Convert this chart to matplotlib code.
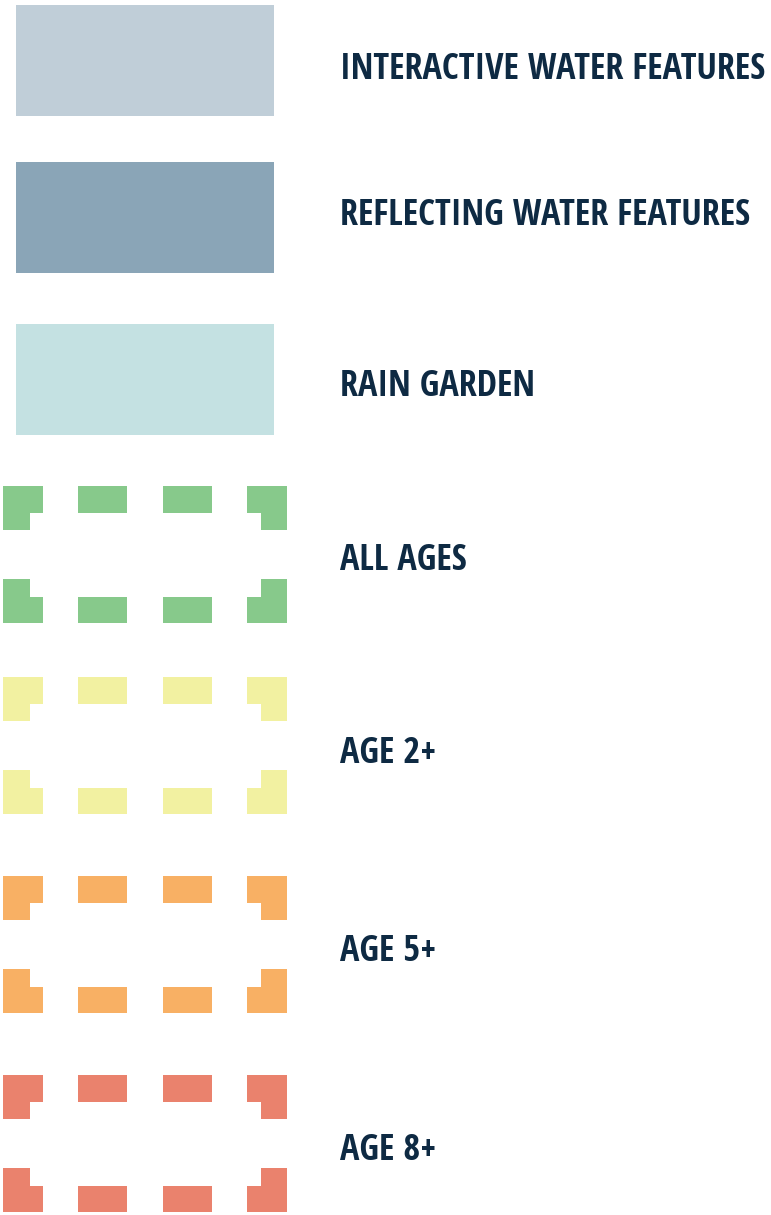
import matplotlib
matplotlib.use('Agg')
import matplotlib.pyplot as plt
from matplotlib import font_manager
from matplotlib.font_manager import FontProperties
from matplotlib.textpath import TextPath
from matplotlib.patches import Rectangle, Polygon

# legend entries, top to bottom
labels = ['INTERACTIVE WATER FEATURES', 'REFLECTING WATER FEATURES', 'RAIN GARDEN',
          'ALL AGES', 'AGE 2+', 'AGE 5+', 'AGE 8+']
swatch_colors = ['#c0ced8', '#8aa5b7', '#c4e1e2',
                 '#87c98b', '#f2f1a1', '#f8b064', '#ea826d']
swatch_kinds = ['fill', 'fill', 'fill', 'dash', 'dash', 'dash', 'dash']
text_color = '#0e2a43'

# layout (pixels, y down)
W, H = 771, 1215
swatch_tops = [5, 162, 324, 486, 677, 876, 1075]
text_centers = [66.5, 212.5, 383.5, 557.5, 750.5, 948.5, 1147]
text_x = 340
target_width = 421   # ink width of the longest label
target_cap = 25      # cap height in px

# plain sans families only
ok_families = ('Roboto', 'Open Sans', 'Noto Sans', 'Lato', 'Inter',
               'Liberation Sans', 'DejaVu Sans')


def weight_num(w):
    if isinstance(w, int):
        return w
    return font_manager.weight_dict.get(str(w).lower(), 400)


def pick_font():
    # bold face whose width-fitted cap height is closest to the reference
    best = None
    longest = max(labels, key=len)
    for f in font_manager.fontManager.ttflist:
        if not f.name.startswith(ok_families):
            continue
        if any(k in f.name for k in ('CJK', 'Mono', 'Symbols', 'Math')):
            continue
        if not (600 <= weight_num(f.weight) <= 800):
            continue
        if f.style != 'normal':
            continue
        fp = FontProperties(fname=f.fname)
        try:
            wpath = TextPath((0, 0), longest, size=100, prop=fp).get_extents()
            hpath = TextPath((0, 0), 'H', size=100, prop=fp).get_extents()
        except Exception:
            continue
        if wpath.width <= 0 or hpath.height <= 0:
            continue
        size_px = 100 * target_width / wpath.width
        cap = hpath.height * size_px / 100
        score = abs(cap - target_cap)
        if best is None or score < best[0]:
            best = (score, fp, size_px, hpath.height / 100)
    return best


best = pick_font()
if best is None:
    fp = FontProperties(family='DejaVu Sans', weight='bold', stretch='condensed')
    size_px, cap_ratio = 24, 0.73
else:
    _, fp, size_px, cap_ratio = best
font_pt = size_px * 72 / 100
cap_px = cap_ratio * size_px


def dashed_box(ax, x0, y0, color, w=284, h=137, t=26.5, arm_x=40, arm_y=44,
               d_start=75, d_len=49):
    x1, y1 = x0 + w, y0 + h
    corners = [
        [(x0, y0), (x0 + arm_x, y0), (x0 + arm_x, y0 + t), (x0 + t, y0 + t),
         (x0 + t, y0 + arm_y), (x0, y0 + arm_y)],
        [(x1, y0), (x1 - arm_x, y0), (x1 - arm_x, y0 + t), (x1 - t, y0 + t),
         (x1 - t, y0 + arm_y), (x1, y0 + arm_y)],
        [(x0, y1), (x0 + arm_x, y1), (x0 + arm_x, y1 - t), (x0 + t, y1 - t),
         (x0 + t, y1 - arm_y), (x0, y1 - arm_y)],
        [(x1, y1), (x1 - arm_x, y1), (x1 - arm_x, y1 - t), (x1 - t, y1 - t),
         (x1 - t, y1 - arm_y), (x1, y1 - arm_y)],
    ]
    for pts in corners:
        ax.add_patch(Polygon(pts, closed=True, facecolor=color, edgecolor='none'))
    for dx in (x0 + d_start, x1 - d_start - d_len):
        ax.add_patch(Rectangle((dx, y0), d_len, t, facecolor=color, edgecolor='none'))
        ax.add_patch(Rectangle((dx, y1 - t), d_len, t, facecolor=color, edgecolor='none'))


fig = plt.figure(figsize=(W / 100, H / 100), dpi=100)
ax = fig.add_axes([0, 0, 1, 1])
ax.set_xlim(0, W)
ax.set_ylim(H, 0)
ax.axis('off')

for label, color, kind, top, yc in zip(labels, swatch_colors, swatch_kinds,
                                       swatch_tops, text_centers):
    if kind == 'fill':
        ax.add_patch(Rectangle((16, top), 258, 111, facecolor=color, edgecolor='none'))
    else:
        dashed_box(ax, 3, top, color)
    ax.text(text_x, yc + cap_px / 2, label, fontproperties=fp, fontsize=font_pt,
            color=text_color, ha='left', va='baseline')

fig.savefig('out.png', dpi=100, facecolor='white')
